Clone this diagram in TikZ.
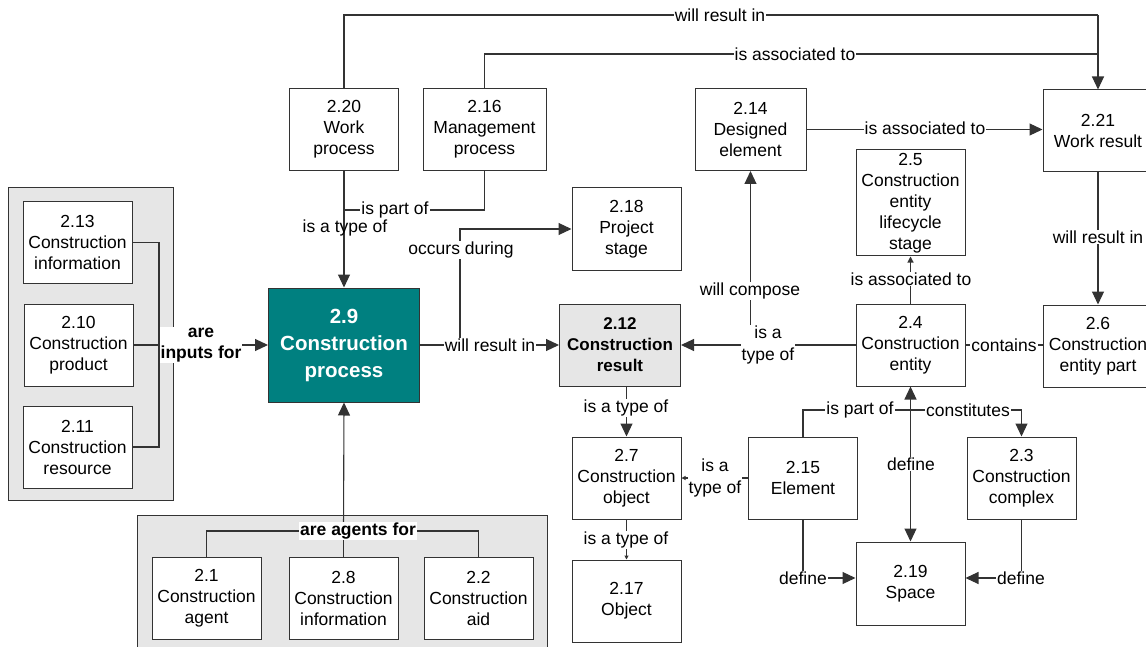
\documentclass[tikz,border=0pt]{standalone}
\usepackage{fontspec}
\setmainfont{Liberation Sans}
\usetikzlibrary{arrows.meta}

\definecolor{procteal}{HTML}{008080}
\definecolor{groupgray}{HTML}{E6E6E6}
\definecolor{linegray}{HTML}{333333}

\begin{document}
\begin{tikzpicture}[%
      x=1pt, y=-1pt,
      box/.style={draw=linegray, fill=white, line width=1pt, align=center, inner sep=0pt,
                  minimum width=109pt, minimum height=82pt, font=\fontsize{17.5}{21}\selectfont},
      lbl/.style={fill=white, inner sep=1pt, align=center, font=\fontsize{17.5}{22}\selectfont},
      rel/.style={color=linegray, line width=1.1pt},
      arr/.style={-{Triangle[length=13pt,width=12pt]}},
      sarr/.style={-{Triangle[length=6pt,width=6pt]}},
      ]
      \useasboundingbox (0,0) rectangle (1146,647);
      \clip (0,0) rectangle (1146,647);

      % groups
      \filldraw [fill=groupgray, draw=linegray, line width=1pt] (8,188) rectangle (173,500);
      \filldraw [fill=groupgray, draw=linegray, line width=1pt] (137,515) rectangle (547,660);

      % inputs
      \node [box] (n213) at (77.5,242.5) {2.13\\Construction\\information};
      \node [box] (n210) at (78.5,345) {2.10\\Construction\\product};
      \node [box] (n211) at (77.5,447) {2.11\\Construction\\resource};

      % agents
      \node [box] (n21) at (206.5,598.5) {2.1\\Construction\\agent};
      \node [box] (n28) at (343.5,598.5) {2.8\\Construction\\information};
      \node [box] (n22) at (478.5,598.5) {2.2\\Construction\\aid};

      % process side
      \node [box, fill=procteal, text=white, minimum width=151pt, minimum height=114pt,
             font=\fontsize{20.5}{27}\selectfont\bfseries] (n29) at (344,345) {2.9\\Construction\\process};
      \node [box] (n220) at (344,129.5) {2.20\\Work\\process};
      \node [box, minimum width=123pt] (n216) at (484.5,129.5) {2.16\\Management\\process};
      \node [box] (n218) at (626.5,229) {2.18\\Project\\stage};

      % result side
      \node [box, fill=groupgray, minimum width=121pt,
             font=\fontsize{17}{21}\selectfont\bfseries] (n212) at (620,345) {2.12\\Construction\\result};
      \node [box, minimum width=111pt] (n214) at (750.5,129.5) {2.14\\Designed\\element};
      \node [box, minimum width=110pt] (n221) at (1098,131) {2.21\\Work result};
      \node [box, minimum height=106pt] (n25) at (910.5,203) {2.5\\Construction\\entity\\lifecycle\\stage};
      \node [box] (n24) at (910.5,345) {2.4\\Construction\\entity};
      \node [box, minimum width=110pt] (n26) at (1098,346) {2.6\\Construction\\entity part};
      \node [box] (n27) at (626.5,478) {2.7\\Construction\\object};
      \node [box] (n215) at (803,478) {2.15\\Element};
      \node [box] (n23) at (1021.5,478) {2.3\\Construction\\complex};
      \node [box] (n217) at (626.5,601) {2.17\\Object};
      \node [box, minimum height=83pt] (n219) at (910.5,583.5) {2.19\\Space};

      % junctions
      \coordinate (inj) at (159,345);
      \coordinate (agj) at (343.5,531);
      \coordinate (wrj) at (1098,15);
      \coordinate (iaj) at (1098,54);
      \coordinate (pofj) at (344,210);
      \coordinate (occj) at (460,345);
      \coordinate (ptj) at (910.5,410);

      % connectors
      \draw [rel] (n213.east) -| (inj) |- (n211.east);
      \draw [rel] (n210.east) -- (inj);
      \draw [rel, arr] (inj) -- (n29.west);
      \draw [rel] (n21.north) |- (agj) -| (n22.north);
      \draw [rel] (n28.north) -- (agj);
      \draw [rel, arr] (agj) -- (n29.south);
      \draw [rel] (n220.north) |- (wrj);
      \draw [rel] (n216.north) |- (iaj);
      \draw [rel, arr] (wrj) -- (n221.north);
      \draw [rel, arr] (n220.south) -- (n29.north);
      \draw [rel] (n216.south) |- (pofj);
      \draw [rel, arr] (n29.east) -- (n212.west);
      \draw [rel, arr] (occj) |- (n218.west);
      \draw [rel, arr] (n24.west) -- (n212.east);
      \draw [rel, arr] (n214.south |- n24.west) -- (n214.south);
      \draw [rel, arr] (n214.east) -- (n214.east -| n221.west);
      \draw [rel, arr] (n221.south) -- (n26.north);
      \draw [rel, sarr] (n24.north) -- (n25.south);
      \draw [rel] (n24.east) -- (n24.east -| n26.west);
      \draw [rel, arr] (n215.north) |- (ptj) -- (n24.south);
      \draw [rel, arr] (ptj) -| (n23.north);
      \draw [rel, arr] (n24.south) -- (n219.north);
      \draw [rel, -{Triangle[length=4pt,width=4pt]}] (n215.west) -- (n27.east);
      \draw [rel, arr] (n27.north |- n212.south) -- (n27.north);
      \draw [rel, -{Triangle[length=4pt,width=4pt]}] (n27.south) -- (n217.north);
      \draw [rel, arr] (n215.south) |- ([yshift=5.5pt]n219.west);
      \draw [rel, arr] (n23.south) |- ([yshift=5.5pt]n219.east);

      % labels
      \node [lbl, font=\fontsize{17.5}{21}\selectfont\bfseries] (linp) at (201,345) {are\\inputs for};
      \node [lbl, font=\fontsize{17.5}{21}\selectfont\bfseries] (lagt) at (358,531) {are agents for};
      \node [lbl] (lwr1) at (720,15) {will result in};
      \node [lbl] (lia1) at (795,54) {is associated to};
      \node [lbl, fill=none] (ltyp1) at (345,228) {is a type of};
      \node [lbl] (lpof1) at (395,210) {is part of};
      \node [lbl] (lwr2) at (490,345) {will result in};
      \node [lbl] (locc) at (461,250) {occurs during};
      \node [lbl] (ltyp2) at (768,345) {is a\\type of};
      \node [lbl] (lcmp) at (750,291) {will compose};
      \node [lbl] (lia2) at (925,128) {is associated to};
      \node [lbl] (lwr3) at (1098,237) {will result in};
      \node [lbl] (lia3) at (911,279) {is associated to};
      \node [lbl] (lcnt) at (1004,345) {contains};
      \node [lbl] (lpof2) at (860,410) {is part of};
      \node [lbl] (lcon) at (968,410) {constitutes};
      \node [lbl] (ldef1) at (911,464) {define};
      \node [lbl] (ltyp3) at (715,478) {is a\\type of};
      \node [lbl] (ltyp4) at (626,408) {is a type of};
      \node [lbl] (ltyp5) at (626,540) {is a type of};
      \node [lbl] (ldef2) at (803,578) {define};
      \node [lbl] (ldef3) at (1021,578) {define};
      \end{tikzpicture}
\end{document}
